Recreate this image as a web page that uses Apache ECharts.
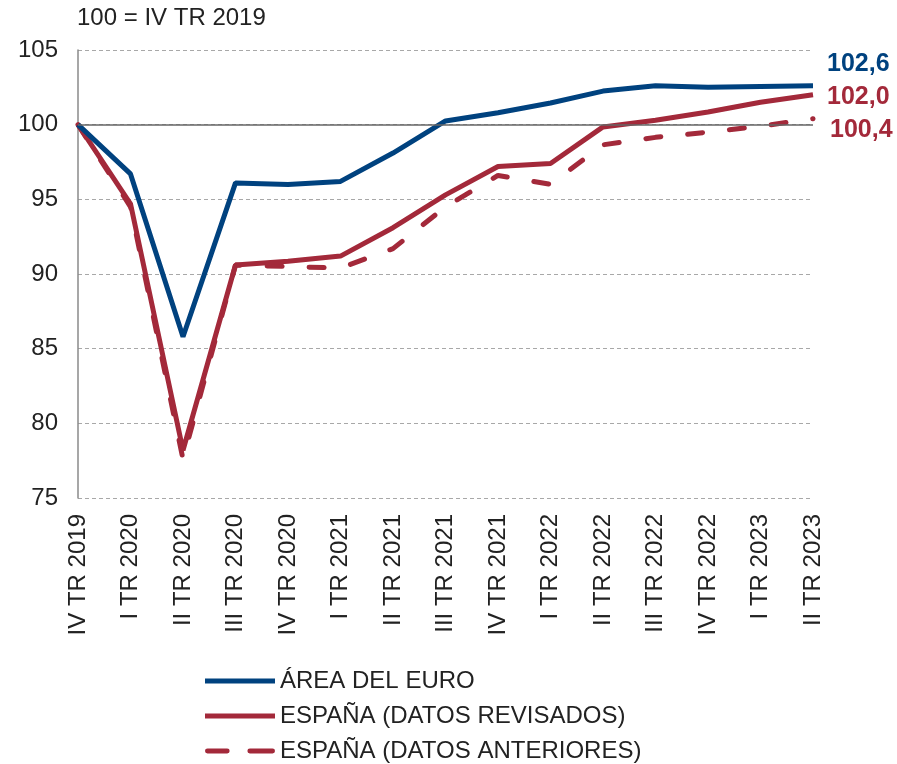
<!DOCTYPE html>
<html>
<head>
<meta charset="utf-8">
<script src="https://cdn.jsdelivr.net/npm/echarts@6/dist/echarts.min.js"></script>
<style>
  html, body { margin: 0; padding: 0; background: #fff; }
  #chart { width: 897px; height: 764px; }
</style>
</head>
<body>
<div id="chart"></div>
<script>
// trimestres
const quarters = ['IV TR 2019', 'I TR 2020', 'II TR 2020', 'III TR 2020', 'IV TR 2020',
  'I TR 2021', 'II TR 2021', 'III TR 2021', 'IV TR 2021', 'I TR 2022',
  'II TR 2022', 'III TR 2022', 'IV TR 2022', 'I TR 2023', 'II TR 2023']

const euroArea = [100, 96.7, 85.8, 96.1, 96.0, 96.2, 98.1, 100.25, 100.8, 101.45, 102.25, 102.6, 102.5, 102.55, 102.6]
const spainRevised = [100, 94.7, 78.2, 90.6, 90.85, 91.2, 93.1, 95.3, 97.2, 97.4, 99.85, 100.3, 100.85, 101.5, 102.0]
const spainPrevious = [100, 94.5, 77.6, 90.6, 90.5, 90.4, 91.7, 94.5, 96.6, 96.0, 98.65, 99.15, 99.5, 99.9, 100.4]

const names = ['ÁREA DEL EURO', 'ESPAÑA (DATOS REVISADOS)', 'ESPAÑA (DATOS ANTERIORES)']

const BLUE = '#00427f'
const RED = '#a3293a'
const FONT = '"Liberation Sans", Arial, sans-serif'

// iconos de la leyenda: línea continua y línea discontinua
const SOLID_ICON = 'path://M0,0H70V5H0Z'
const DASH_ICON = 'path://M2,0H22A2.5,2.5,0,0,1,22,5H2A2.5,2.5,0,0,1,2,0Z M45,0H68A2.5,2.5,0,0,1,68,5H45A2.5,2.5,0,0,1,45,0Z'

const fmt = p => p.value.toFixed(1).replace('.', ',')

const chart = echarts.init(document.getElementById('chart'))
const options = {
  animation: false,
  textStyle: { fontFamily: FONT },
  title: {
    text: '100 = IV TR 2019',
    left: 77,
    top: 6,
    padding: 0,
    textStyle: { fontFamily: FONT, fontSize: 24, fontWeight: 'normal', color: '#222' }
  },
  grid: { left: 78, right: 84, top: 50, bottom: 266, containLabel: false },
  legend: {
    orient: 'vertical',
    left: 205,
    top: 669,
    padding: 0,
    itemWidth: 70,
    itemHeight: 5,
    itemGap: 11,
    textStyle: { fontFamily: FONT, fontSize: 24, lineHeight: 24, color: '#222' },
    data: [
      { name: names[0], icon: SOLID_ICON },
      { name: names[1], icon: SOLID_ICON },
      { name: names[2], icon: DASH_ICON }
    ]
  },
  xAxis: {
    type: 'category',
    data: quarters,
    boundaryGap: false,
    axisLine: { show: false },
    axisTick: { show: false },
    axisLabel: { rotate: 90, interval: 0, margin: 16, fontSize: 24, color: '#222' }
  },
  yAxis: {
    type: 'value',
    min: 75,
    max: 105,
    interval: 5,
    axisLine: { show: true, lineStyle: { color: '#8a8a8a', width: 1.5 } },
    axisTick: { show: false },
    axisLabel: { fontSize: 24, color: '#222', margin: 20 },
    splitLine: { lineStyle: { type: [4, 3], color: '#a8a8a8', width: 1 } }
  },
  series: [
    {
      name: names[0],
      type: 'line',
      data: euroArea,
      symbol: 'none',
      lineStyle: { color: BLUE, width: 5 },
      itemStyle: { color: BLUE },
      z: 4,
      endLabel: {
        show: true, formatter: fmt, offset: [6, -22],
        fontSize: 25, fontWeight: 'bold', color: BLUE
      },
      markLine: {
        silent: true,
        symbol: 'none',
        label: { show: false },
        lineStyle: { color: '#666', width: 1.5, type: 'solid' },
        data: [{ yAxis: 100 }]
      }
    },
    {
      name: names[1],
      type: 'line',
      data: spainRevised,
      symbol: 'none',
      lineStyle: { color: RED, width: 5 },
      itemStyle: { color: RED },
      z: 3,
      endLabel: {
        show: true, formatter: fmt, offset: [6, 2],
        fontSize: 25, fontWeight: 'bold', color: RED
      }
    },
    {
      name: names[2],
      type: 'line',
      data: spainPrevious,
      symbol: 'none',
      lineStyle: { color: RED, width: 5, type: [15, 27], cap: 'round' },
      itemStyle: { color: RED },
      z: 2,
      endLabel: {
        show: true, formatter: fmt, offset: [9, 11],
        fontSize: 25, fontWeight: 'bold', color: RED
      }
    }
  ]
}
options && chart.setOption(options)
</script>
</body>
</html>
